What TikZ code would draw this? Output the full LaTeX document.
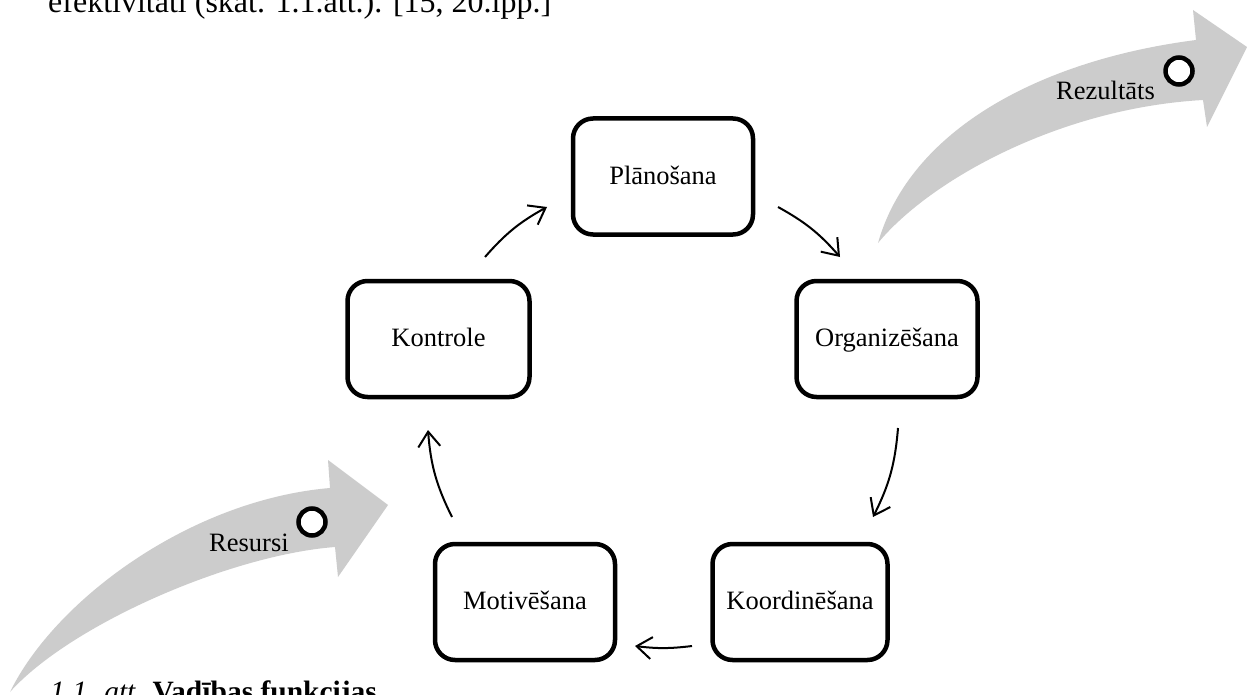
\documentclass[tikz,border=0pt]{standalone}
\usepackage{fontspec}
\setmainfont{Liberation Serif}
\usetikzlibrary{arrows.meta}
\definecolor{arrowgray}{RGB}{204,204,204}
\begin{document}
\begin{tikzpicture}[x=1pt,y=-1pt,
  fbox/.style={draw=black, line width=4.5pt, rounded corners=20pt,
    minimum width=180pt, minimum height=116pt,
    text height=20pt, text depth=4.5pt,
    font=\fontsize{26.5}{30}\selectfont, inner sep=0pt},
  cyc/.style={line width=2pt, -{Straight Barb[length=15pt,width=22pt,line width=2pt]}},
  bigarrow/.style={fill=arrowgray, draw=none},
  ring/.style={circle, draw=black, line width=4.5pt, fill=white,
    minimum size=27pt, inner sep=0pt},
  lbl/.style={font=\fontsize{26.5}{30}\selectfont, inner sep=0pt}
]
\useasboundingbox (0,0) rectangle (1247,695);
\fill[white] (0,0) rectangle (1247,695);
\clip (0,0) rectangle (1247,695);

% body text above (cut off at the top, as in the reference)
\node[anchor=base west, inner sep=0pt, font=\fontsize{32}{38}\selectfont] (toptext) at (48,13)
  {efektivitāti (skat. 1.1.att.). [15, 20.lpp.]};

% big gray arrows
\path[bigarrow] (878,243) .. controls (910,130) and (1040,60) .. (1196,40)
  -- (1193,10) -- (1247,47) -- (1207,127) -- (1203,100)
  .. controls (1060,108) and (930,180) .. (878,243) -- cycle;
\path[bigarrow] (10,692) .. controls (55,600) and (190,500) .. (330,488)
  -- (328,460) -- (388,505) -- (338,577) -- (335,547)
  .. controls (230,555) and (70,625) .. (10,692) -- cycle;

\node[lbl, anchor=base east] (rez) at (1155,100) {Rezultāts};
\node[ring] (rezring) at (1179,71) {};
\node[lbl, anchor=base west] (res) at (209,551) {Resursi};
\node[ring] (resring) at (312,522) {};

% boxes
\node[fbox] (plan)  at (663,176.5) {Plānošana};
\node[fbox, minimum width=182pt] (kon)   at (438.5,339) {Kontrole};
\node[fbox, minimum width=181pt] (org)   at (887,339) {Organizēšana};
\node[fbox, minimum width=175pt] (koord) at (800,602) {Koordinēšana};
\node[fbox] (motiv) at (525,602) {Motivēšana};

% cycle arrows
\coordinate (a1s) at (485,257); \coordinate (a1e) at (547,207);
\coordinate (a2s) at (778,207); \coordinate (a2e) at (840,257);
\coordinate (a3s) at (898,428); \coordinate (a3e) at (873,517);
\coordinate (a4s) at (692,646); \coordinate (a4e) at (635,646);
\coordinate (a5s) at (452,517); \coordinate (a5e) at (428,430);
\draw[cyc] (a1s) to[bend left=10] (a1e);
\draw[cyc] (a2s) to[bend left=10] (a2e);
\draw[cyc] (a3s) to[bend left=11] (a3e);
\draw[cyc] (a4s) to[bend left=7] (a4e);
\draw[cyc] (a5s) to[bend left=11] (a5e);

% caption (cut off at the bottom, as in the reference)
\node[anchor=base west, inner sep=0pt, font=\fontsize{29.5}{34}\selectfont] (caption) at (50,701.5)
  {\textit{1.1. att.} \textbf{Vadības funkcijas}};
\end{tikzpicture}
\end{document}
